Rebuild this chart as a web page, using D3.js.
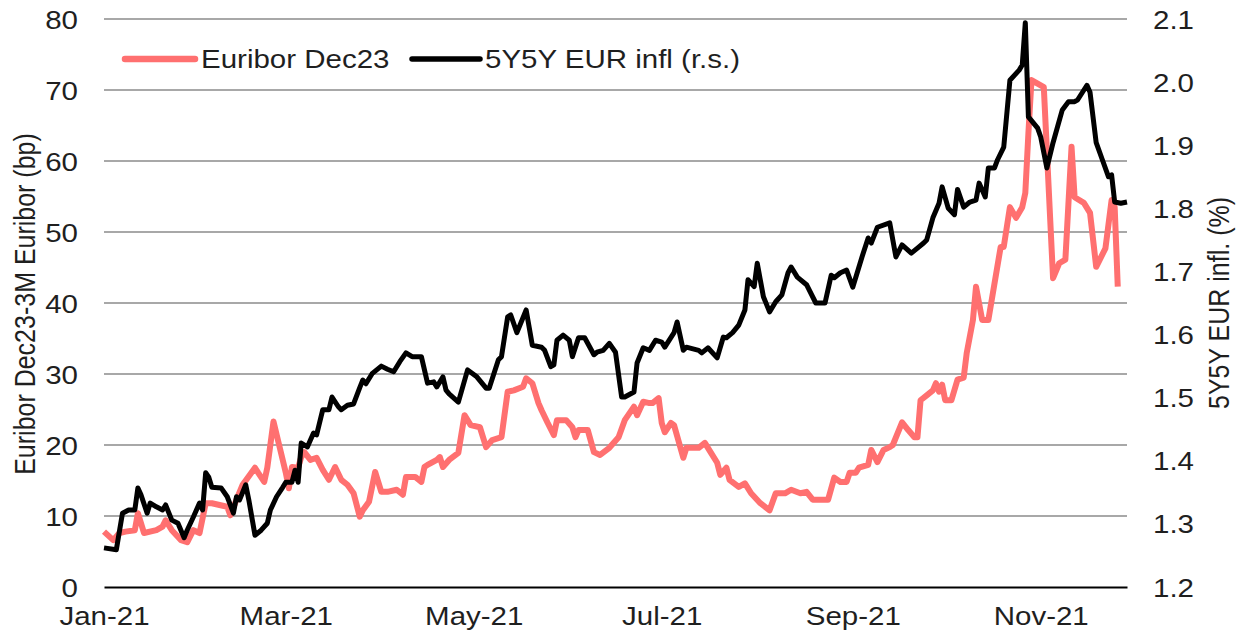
<!DOCTYPE html>
<html>
<head>
<meta charset="utf-8">
<script src="https://cdn.jsdelivr.net/npm/d3@7"></script>
<style>
  body { margin: 0; background: #fff; }
  text { font-family: "Liberation Sans", Arial, sans-serif; fill: #1f1f1f; }
</style>
</head>
<body>
<div id="app"></div>
<script>
const OUTER = { width: 1240, height: 633 };
const MARGIN = { top: 19, right: 113, bottom: 46, left: 104 };
const INNER = {
  width: OUTER.width - MARGIN.left - MARGIN.right,
  height: OUTER.height - MARGIN.top - MARGIN.bottom,
};
const FONT = 25;
// the source picture is stretched sideways, so glyphs get widened too
const STRETCH = 'scale(1.18,1)';
const RED = '#ff7070';

const SERIES_NAMES = ['Euribor Dec23', '5Y5Y EUR infl (r.s.)'];
const AXIS_TITLES = ['Euribor Dec23-3M Euribor (bp)', '5Y5Y EUR infl. (%)'];

const xDomain = ['2021-01-01', '2021-11-29'];
const xTicks = ['2021-01-01', '2021-03-01', '2021-05-01', '2021-07-01', '2021-09-01', '2021-11-01'];
const leftTicks = [0, 10, 20, 30, 40, 50, 60, 70, 80];
const rightTicks = [1.2, 1.3, 1.4, 1.5, 1.6, 1.7, 1.8, 1.9, 2.0, 2.1];

// Euribor Dec23 - 3M Euribor, bp (left axis)
const euriborDates = [
  '2021-01-01', '2021-01-04', '2021-01-06', '2021-01-08', '2021-01-11', '2021-01-12', '2021-01-14', '2021-01-18',
  '2021-01-20', '2021-01-21', '2021-01-23', '2021-01-26', '2021-01-28', '2021-01-30', '2021-02-01', '2021-02-03',
  '2021-02-05', '2021-02-10', '2021-02-11', '2021-02-13', '2021-02-15', '2021-02-19', '2021-02-20', '2021-02-22',
  '2021-02-23', '2021-02-25', '2021-02-27', '2021-03-01', '2021-03-02', '2021-03-03', '2021-03-05', '2021-03-06',
  '2021-03-07', '2021-03-09', '2021-03-11', '2021-03-13', '2021-03-15', '2021-03-17', '2021-03-19', '2021-03-21',
  '2021-03-23', '2021-03-25', '2021-03-26', '2021-03-28', '2021-03-30', '2021-04-01', '2021-04-03', '2021-04-06',
  '2021-04-08', '2021-04-09', '2021-04-12', '2021-04-14', '2021-04-15', '2021-04-16', '2021-04-19', '2021-04-20',
  '2021-04-21', '2021-04-23', '2021-04-26', '2021-04-28', '2021-04-30', '2021-05-03', '2021-05-05', '2021-05-07',
  '2021-05-10', '2021-05-12', '2021-05-14', '2021-05-17', '2021-05-18', '2021-05-20', '2021-05-22', '2021-05-23',
  '2021-05-25', '2021-05-27', '2021-05-28', '2021-05-31', '2021-06-02', '2021-06-03', '2021-06-04', '2021-06-07',
  '2021-06-09', '2021-06-11', '2021-06-14', '2021-06-17', '2021-06-19', '2021-06-22', '2021-06-23', '2021-06-25',
  '2021-06-27', '2021-06-28', '2021-06-30', '2021-07-01', '2021-07-02', '2021-07-04', '2021-07-05', '2021-07-08',
  '2021-07-09', '2021-07-13', '2021-07-15', '2021-07-17', '2021-07-19', '2021-07-20', '2021-07-22', '2021-07-23',
  '2021-07-26', '2021-07-28', '2021-07-30', '2021-08-02', '2021-08-05', '2021-08-07', '2021-08-10', '2021-08-12',
  '2021-08-15', '2021-08-17', '2021-08-19', '2021-08-24', '2021-08-26', '2021-08-28', '2021-08-30', '2021-08-31',
  '2021-09-02', '2021-09-03', '2021-09-06', '2021-09-07', '2021-09-09', '2021-09-11', '2021-09-13', '2021-09-14',
  '2021-09-17', '2021-09-19', '2021-09-21', '2021-09-22', '2021-09-23', '2021-09-25', '2021-09-27', '2021-09-28',
  '2021-09-29', '2021-09-30', '2021-10-01', '2021-10-03', '2021-10-05', '2021-10-07', '2021-10-08', '2021-10-10',
  '2021-10-11', '2021-10-13', '2021-10-15', '2021-10-19', '2021-10-20', '2021-10-22', '2021-10-24', '2021-10-26',
  '2021-10-27', '2021-10-28', '2021-10-29', '2021-11-02', '2021-11-05', '2021-11-07', '2021-11-09', '2021-11-11',
  '2021-11-12', '2021-11-15', '2021-11-17', '2021-11-19', '2021-11-22', '2021-11-24', '2021-11-25', '2021-11-26',
];
const euriborValues = [
  7.8, 6.6, 7.6, 7.8, 8.0, 10.4, 7.6, 8.0,
  8.5, 9.4, 8.0, 6.6, 6.3, 8.0, 7.6, 11.8,
  11.8, 11.3, 10.1, 12.3, 14.4, 16.8, 16.1, 14.8,
  16.8, 23.3, 19.7, 16.1, 13.9, 16.9, 16.8, 18.3,
  19.0, 17.9, 18.2, 16.5, 15.1, 16.9, 15.1, 14.4,
  13.2, 9.9, 10.8, 12.0, 16.2, 13.4, 13.4, 13.7,
  13.0, 15.5, 15.5, 14.8, 16.9, 17.2, 17.9, 18.3,
  16.9, 17.9, 18.9, 24.2, 22.8, 22.5, 19.7, 20.7,
  21.1, 27.5, 27.7, 28.2, 29.4, 28.7, 25.9, 24.9,
  23.1, 21.4, 23.5, 23.5, 22.5, 21.1, 22.1, 22.1,
  19.0, 18.6, 19.6, 21.1, 23.5, 25.4, 24.2, 26.1,
  25.9, 25.9, 26.6, 23.1, 21.8, 23.1, 22.8, 18.2,
  19.6, 19.6, 20.3, 18.9, 17.5, 15.8, 16.8, 15.1,
  14.1, 14.6, 13.2, 11.8, 10.8, 13.2, 13.2, 13.7,
  13.2, 13.4, 12.3, 12.3, 15.4, 14.8, 14.8, 16.1,
  16.1, 16.8, 17.2, 19.3, 17.6, 19.3, 19.7, 20.0,
  23.2, 22.1, 21.1, 21.1, 26.3, 27.0, 27.7, 28.7,
  27.5, 28.5, 26.3, 26.3, 29.2, 29.5, 33.0, 37.6,
  42.3, 37.6, 37.6, 47.9, 47.9, 53.5, 52.0, 53.5,
  55.5, 63.9, 71.4, 70.4, 43.5, 45.6, 46.1, 62.0,
  54.9, 54.1, 52.7, 45.1, 47.7, 54.5, 53.5, 42.3,
];

// 5Y5Y EUR inflation swap, % (right axis)
const inflDates = [
  '2021-01-01', '2021-01-05', '2021-01-07', '2021-01-09', '2021-01-11', '2021-01-12', '2021-01-13', '2021-01-15',
  '2021-01-16', '2021-01-18', '2021-01-20', '2021-01-21', '2021-01-23', '2021-01-25', '2021-01-27', '2021-01-28',
  '2021-01-30', '2021-02-01', '2021-02-02', '2021-02-03', '2021-02-04', '2021-02-05', '2021-02-08', '2021-02-10',
  '2021-02-12', '2021-02-13', '2021-02-14', '2021-02-16', '2021-02-17', '2021-02-19', '2021-02-21', '2021-02-23',
  '2021-02-24', '2021-02-26', '2021-02-28', '2021-03-01', '2021-03-03', '2021-03-04', '2021-03-05', '2021-03-06',
  '2021-03-08', '2021-03-10', '2021-03-11', '2021-03-13', '2021-03-15', '2021-03-16', '2021-03-18', '2021-03-19',
  '2021-03-21', '2021-03-23', '2021-03-25', '2021-03-26', '2021-03-27', '2021-03-29', '2021-04-01', '2021-04-03',
  '2021-04-05', '2021-04-07', '2021-04-09', '2021-04-11', '2021-04-14', '2021-04-16', '2021-04-18', '2021-04-19',
  '2021-04-21', '2021-04-22', '2021-04-23', '2021-04-26', '2021-04-29', '2021-05-02', '2021-05-05', '2021-05-06',
  '2021-05-09', '2021-05-10', '2021-05-12', '2021-05-13', '2021-05-15', '2021-05-18', '2021-05-20', '2021-05-23',
  '2021-05-24', '2021-05-26', '2021-05-27', '2021-05-28', '2021-05-30', '2021-06-01', '2021-06-02', '2021-06-04',
  '2021-06-06', '2021-06-09', '2021-06-10', '2021-06-12', '2021-06-14', '2021-06-16', '2021-06-18', '2021-06-19',
  '2021-06-22', '2021-06-23', '2021-06-25', '2021-06-27', '2021-06-29', '2021-07-01', '2021-07-02', '2021-07-05',
  '2021-07-06', '2021-07-08', '2021-07-09', '2021-07-13', '2021-07-14', '2021-07-16', '2021-07-19', '2021-07-21',
  '2021-07-22', '2021-07-24', '2021-07-26', '2021-07-28', '2021-07-29', '2021-07-31', '2021-08-01', '2021-08-03',
  '2021-08-05', '2021-08-07', '2021-08-09', '2021-08-11', '2021-08-12', '2021-08-14', '2021-08-17', '2021-08-20',
  '2021-08-23', '2021-08-25', '2021-08-26', '2021-08-28', '2021-08-30', '2021-09-01', '2021-09-04', '2021-09-06',
  '2021-09-07', '2021-09-09', '2021-09-13', '2021-09-15', '2021-09-17', '2021-09-20', '2021-09-22', '2021-09-24',
  '2021-09-25', '2021-09-27', '2021-09-29', '2021-09-30', '2021-10-02', '2021-10-04', '2021-10-05', '2021-10-07',
  '2021-10-09', '2021-10-11', '2021-10-12', '2021-10-14', '2021-10-15', '2021-10-17', '2021-10-18', '2021-10-20',
  '2021-10-22', '2021-10-25', '2021-10-26', '2021-10-27', '2021-10-28', '2021-10-31', '2021-11-01', '2021-11-03',
  '2021-11-05', '2021-11-08', '2021-11-10', '2021-11-12', '2021-11-13', '2021-11-16', '2021-11-17', '2021-11-19',
  '2021-11-21', '2021-11-23', '2021-11-24', '2021-11-25', '2021-11-27', '2021-11-29',
];
const inflValues = [
  1.262, 1.259, 1.317, 1.322, 1.322, 1.357, 1.346, 1.317,
  1.333, 1.327, 1.322, 1.330, 1.306, 1.301, 1.278, 1.290,
  1.311, 1.333, 1.322, 1.381, 1.374, 1.358, 1.357, 1.343,
  1.317, 1.343, 1.338, 1.362, 1.338, 1.282, 1.290, 1.301,
  1.322, 1.343, 1.358, 1.366, 1.366, 1.385, 1.366, 1.428,
  1.422, 1.444, 1.441, 1.481, 1.481, 1.501, 1.486, 1.481,
  1.488, 1.490, 1.516, 1.528, 1.522, 1.538, 1.550, 1.545,
  1.541, 1.557, 1.571, 1.565, 1.565, 1.523, 1.525, 1.517,
  1.533, 1.512, 1.506, 1.493, 1.544, 1.533, 1.515, 1.515,
  1.560, 1.565, 1.628, 1.631, 1.603, 1.639, 1.583, 1.580,
  1.575, 1.549, 1.552, 1.591, 1.599, 1.591, 1.565, 1.595,
  1.595, 1.568, 1.572, 1.575, 1.586, 1.572, 1.501, 1.501,
  1.509, 1.555, 1.579, 1.575, 1.591, 1.588, 1.580, 1.603,
  1.620, 1.575, 1.580, 1.575, 1.571, 1.579, 1.563, 1.596,
  1.595, 1.603, 1.615, 1.639, 1.687, 1.676, 1.713, 1.660,
  1.636, 1.652, 1.663, 1.698, 1.707, 1.691, 1.679, 1.650,
  1.650, 1.694, 1.690, 1.698, 1.702, 1.675, 1.723, 1.753,
  1.745, 1.770, 1.777, 1.723, 1.742, 1.729, 1.737, 1.745,
  1.750, 1.785, 1.808, 1.834, 1.800, 1.790, 1.830, 1.802,
  1.810, 1.813, 1.840, 1.818, 1.864, 1.864, 1.877, 1.897,
  2.003, 2.019, 2.027, 2.094, 1.945, 1.927, 1.913, 1.864,
  1.904, 1.956, 1.969, 1.969, 1.972, 1.995, 1.984, 1.904,
  1.877, 1.850, 1.853, 1.810, 1.808, 1.810,
];

const parseDate = d3.timeParse('%Y-%m-%d');
const toPoints = (dates, values) => dates.map((d, i) => ({ date: parseDate(d), value: values[i] }));

const xScale = d3.scaleTime()
  .domain(xDomain.map(parseDate))
  .range([0, INNER.width]);

const yLeft = d3.scaleLinear()
  .domain([0, 80])
  .range([INNER.height, 0]);

const yRight = d3.scaleLinear()
  .domain([1.2, 2.1])
  .range([INNER.height, 0]);

const styleTicks = (g, dx, dy, anchor) => {
  g.select('.domain').remove();
  g.selectAll('.tick text')
    .attr('x', 0)
    .attr('y', 0)
    .attr('dy', dy)
    .attr('text-anchor', anchor)
    .attr('transform', `translate(${dx},0) ${STRETCH}`)
    .style('font-size', `${FONT}px`)
    .style('fill', '#1f1f1f');
};

const addChart = () => {
  const svg = d3.select('#app')
    .append('svg')
    .attr('width', OUTER.width)
    .attr('height', OUTER.height);

  const chart = svg.append('g')
    .attr('transform', `translate(${MARGIN.left}, ${MARGIN.top})`);

  // horizontal gridlines on the left scale
  chart.append('g')
    .selectAll('line')
    .data(leftTicks.filter(t => t > 0))
    .join('line')
    .attr('x1', 0)
    .attr('x2', INNER.width)
    .attr('y1', d => yLeft(d))
    .attr('y2', d => yLeft(d))
    .attr('stroke', '#a8a8a8')
    .attr('stroke-width', 2);

  chart.append('g')
    .call(d3.axisLeft(yLeft).tickValues(leftTicks).tickSize(0))
    .call(g => styleTicks(g, -26, '0.36em', 'end'));

  chart.append('g')
    .attr('transform', `translate(${INNER.width}, 0)`)
    .call(d3.axisRight(yRight).tickValues(rightTicks).tickFormat(d3.format('.1f')).tickSize(0))
    .call(g => styleTicks(g, 26, '0.36em', 'start'));

  const xAxis = chart.append('g')
    .attr('transform', `translate(0, ${INNER.height})`)
    .call(d3.axisBottom(xScale)
      .tickValues(xTicks.map(parseDate))
      .tickFormat(d3.timeFormat('%b-%y'))
      .tickSize(0));
  xAxis.selectAll('.tick text')
    .attr('y', 0)
    .attr('dy', 0)
    .attr('transform', `translate(0,38) ${STRETCH}`)
    .style('font-size', `${FONT}px`)
    .style('fill', '#1f1f1f');
  xAxis.select('.domain')
    .attr('stroke', '#000')
    .attr('stroke-width', 2.2);

  const euriborLine = d3.line()
    .x(d => xScale(d.date))
    .y(d => yLeft(d.value));
  const inflLine = d3.line()
    .x(d => xScale(d.date))
    .y(d => yRight(d.value));

  chart.append('path')
    .datum(toPoints(euriborDates, euriborValues))
    .attr('fill', 'none')
    .attr('stroke', RED)
    .attr('stroke-width', 6)
    .attr('stroke-linejoin', 'round')
    .attr('d', euriborLine);

  chart.append('path')
    .datum(toPoints(inflDates, inflValues))
    .attr('fill', 'none')
    .attr('stroke', '#000')
    .attr('stroke-width', 5)
    .attr('stroke-linejoin', 'round')
    .attr('d', inflLine);

  // axis titles
  svg.append('text')
    .attr('transform', `translate(35, 304) ${STRETCH} rotate(-90)`)
    .attr('text-anchor', 'middle')
    .style('font-size', `${FONT}px`)
    .text(AXIS_TITLES[0]);
  svg.append('text')
    .attr('transform', `translate(1229, 303) ${STRETCH} rotate(-90)`)
    .attr('text-anchor', 'middle')
    .style('font-size', `${FONT}px`)
    .text(AXIS_TITLES[1]);

  // legend
  const legend = svg.append('g');
  const items = [
    { name: SERIES_NAMES[0], color: RED, width: 6.5, x1: 125, x2: 195, tx: 201 },
    { name: SERIES_NAMES[1], color: '#000', width: 5.5, x1: 412, x2: 480, tx: 485 },
  ];
  legend.selectAll('line')
    .data(items)
    .join('line')
    .attr('x1', d => d.x1)
    .attr('x2', d => d.x2)
    .attr('y1', 59)
    .attr('y2', 59)
    .attr('stroke', d => d.color)
    .attr('stroke-width', d => d.width)
    .attr('stroke-linecap', 'round');
  legend.selectAll('text')
    .data(items)
    .join('text')
    .attr('transform', d => `translate(${d.tx}, 68) ${STRETCH}`)
    .style('font-size', `${FONT}px`)
    .text(d => d.name);

  return chart;
};

addChart();
</script>
</body>
</html>
